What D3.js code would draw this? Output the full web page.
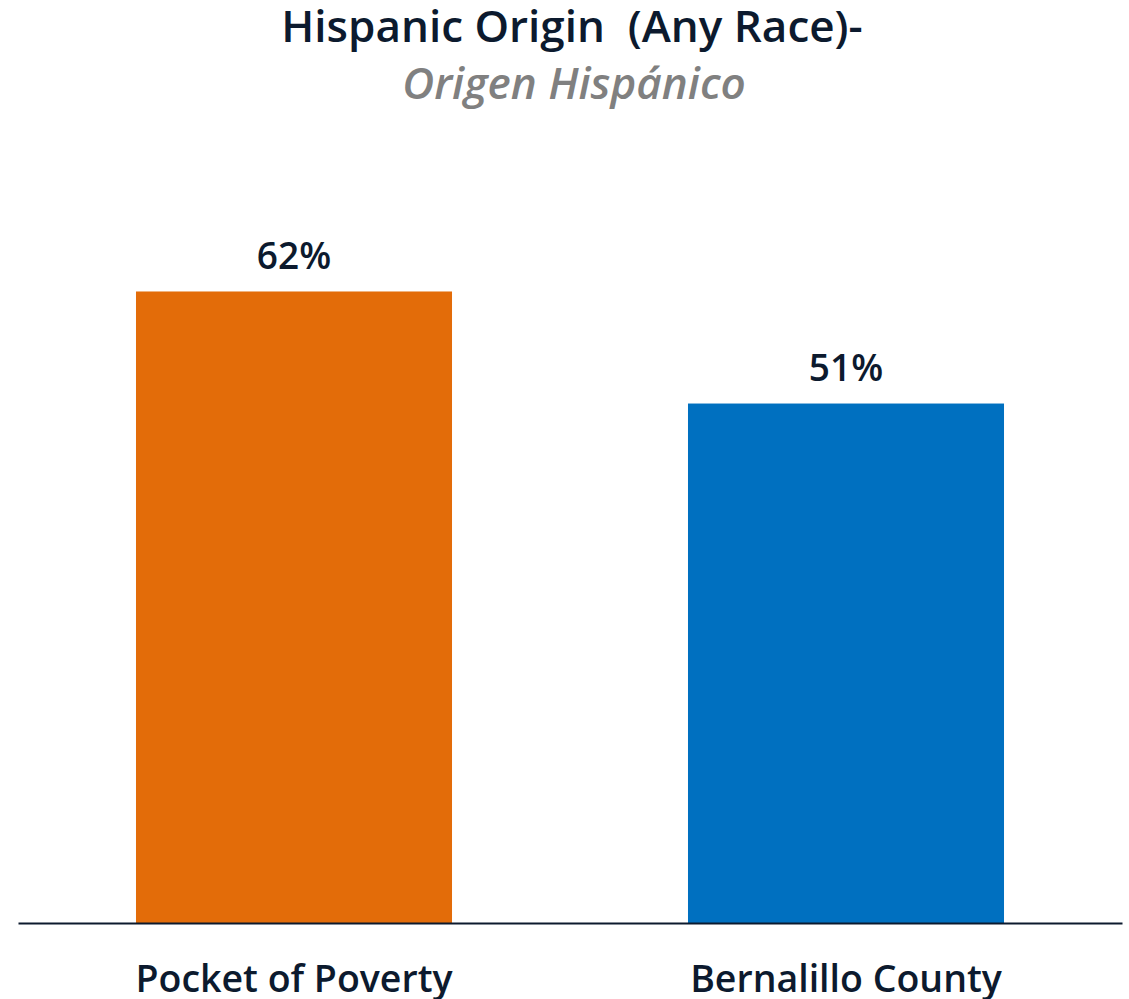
<!DOCTYPE html>
<html>
<head>
<meta charset="utf-8">
<script src="https://cdn.jsdelivr.net/npm/d3@7"></script>
<style>
  html, body { margin: 0; padding: 0; background: #ffffff; }
  svg { display: block; font-family: "Open Sans", "Noto Sans", sans-serif; }
</style>
</head>
<body>
<svg id="chart" width="1129" height="999"></svg>
<script>
// Share of residents of Hispanic origin (any race)
const categories = ["Pocket of Poverty", "Bernalillo County"];
const values = [62, 51];
const valueLabels = ["62%", "51%"];
const barColors = ["#E36C09", "#0070C0"];

const titleText = "Hispanic Origin\u00A0\u00A0(Any Race)-";
const subtitleText = "Origen Hispánico";

const baseY = 923;
const svg = d3.select("#chart");

const x = d3.scaleBand()
  .domain(categories)
  .range([18, 1122])
  .paddingInner(0.4275)
  .paddingOuter(0.21375);

const y = d3.scaleLinear()
  .domain([0, 70])
  .range([baseY, 210]);

const color = d3.scaleOrdinal().domain(categories).range(barColors);
const ink = "#0C1A2E";

// Titles
svg.append("text")
  .attr("x", 572).attr("y", 42)
  .attr("text-anchor", "middle")
  .attr("font-size", 44).attr("font-weight", 600)
  .attr("fill", ink)
  .text(titleText);

svg.append("text")
  .attr("x", 574).attr("y", 99)
  .attr("text-anchor", "middle")
  .attr("font-size", 44).attr("font-weight", 600)
  .attr("font-style", "italic")
  .attr("fill", "#808080")
  .text(subtitleText);

// Bars
svg.append("g").selectAll("rect")
  .data(categories)
  .join("rect")
  .attr("x", d => x(d))
  .attr("width", x.bandwidth())
  .attr("y", (d, i) => y(values[i]))
  .attr("height", (d, i) => y(0) - y(values[i]))
  .attr("fill", d => color(d));

// Value labels
svg.append("g").selectAll("text")
  .data(categories)
  .join("text")
  .attr("x", d => x(d) + x.bandwidth() / 2)
  .attr("y", (d, i) => y(values[i]) - 22.5)
  .attr("text-anchor", "middle")
  .attr("font-size", 37).attr("font-weight", 600)
  .attr("fill", ink)
  .text((d, i) => valueLabels[i]);

// Category axis
const axis = svg.append("g")
  .attr("transform", `translate(0,${baseY})`)
  .call(d3.axisBottom(x).tickSize(0).tickPadding(0));
axis.select(".domain").attr("stroke", ink).attr("stroke-width", 2);
axis.selectAll(".tick text")
  .attr("y", 69)
  .attr("dy", 0)
  .attr("font-family", "\"Open Sans\", \"Noto Sans\", sans-serif")
  .attr("font-size", 37.5).attr("font-weight", 600)
  .attr("fill", ink);
</script>
</body>
</html>
